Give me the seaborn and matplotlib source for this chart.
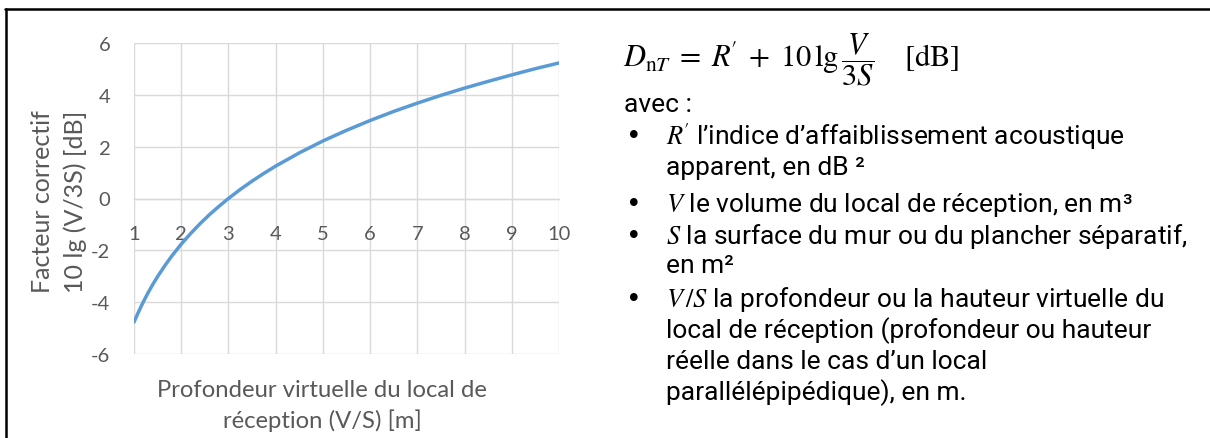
import matplotlib
matplotlib.use("Agg")
import matplotlib.pyplot as plt
import seaborn as sns
import pandas as pd
from matplotlib.lines import Line2D

# ---- data ----
depth_vs = [1.0, 1.1, 1.2, 1.3, 1.4, 1.5, 1.65, 1.8, 2.0, 2.2, 2.4, 2.6, 2.8, 3.0, 3.25, 3.5,
            3.75, 4.0, 4.5, 5.0, 5.5, 6.0, 6.5, 7.0, 7.5, 8.0, 8.5, 9.0, 9.5, 10.0]
correction_db = [-4.77, -4.36, -3.98, -3.63, -3.31, -3.01, -2.60, -2.22, -1.76, -1.35, -0.97,
                 -0.62, -0.30, 0.00, 0.35, 0.67, 0.97, 1.25, 1.76, 2.22, 2.63, 3.01, 3.36,
                 3.68, 3.98, 4.26, 4.52, 4.77, 5.01, 5.23]
x_ticks = [1, 2, 3, 4, 5, 6, 7, 8, 9, 10]
y_ticks = [-6, -4, -2, 0, 2, 4, 6]

y_label = "Facteur correctif\n10 lg (V/3S) [dB]"
x_label = "Profondeur virtuelle du local de\nréception (V/S) [m]"

formula = (r"$D_{\mathrm{n}T}\;=\;R^{\!\prime}\;+\;10\,\mathrm{lg}\,\dfrac{V}{3S}"
           r"\quad\;[\mathrm{dB}]$")
intro = "avec :"
bullet_lines = [
    (True,  r"$R^{\!\prime}$ l’indice d’affaiblissement acoustique"),
    (False, "apparent, en dB ²"),
    (True,  r"$V$ le volume du local de réception, en m³"),
    (True,  r"$S$ la surface du mur ou du plancher séparatif,"),
    (False, "en m²"),
    (True,  r"$V\,/S$ la profondeur ou la hauteur virtuelle du"),
    (False, "local de réception (profondeur ou hauteur"),
    (False, "réelle dans le cas d’un local"),
    (False, "parallélépipédique), en m."),
]

df = pd.DataFrame({"x": depth_vs, "y": correction_db})

sns.set_theme(style="white")
plt.rcParams["font.family"] = ["Lato", "DejaVu Sans"]
plt.rcParams["mathtext.fontset"] = "stix"
plt.rcParams["axes.unicode_minus"] = False

W, H = 1210, 439
fig = plt.figure(figsize=(W / 100, H / 100), dpi=100)
fig.patch.set_facecolor("white")

L, R, T, B = 134, 559, 44, 355
ax = fig.add_axes([L / W, 1 - B / H, (R - L) / W, (B - T) / H])

sns.lineplot(data=df, x="x", y="y", ax=ax, color="#5B9BD5", linewidth=2.5, zorder=3)

ax.set_xlim(1, 10)
ax.set_ylim(-6, 6)
ax.set_xticks(x_ticks)
ax.set_yticks(y_ticks)
ax.grid(True, color="#d9d9d9", linewidth=1.0)
ax.set_axisbelow(True)
for s in ["top", "right", "left"]:
    ax.spines[s].set_visible(False)
ax.spines["bottom"].set_position(("data", 0))
ax.spines["bottom"].set_color("#d9d9d9")
ax.spines["bottom"].set_linewidth(1.0)

gray = "#595959"
ax.tick_params(axis="both", length=0, labelsize=14.5, labelcolor=gray)
ax.tick_params(axis="y", pad=17)
ax.tick_params(axis="x", pad=19)

ax.set_ylabel(y_label, fontsize=18, color=gray, linespacing=1.45, ha="center", va="center")
ax.yaxis.set_label_coords((59 - L) / (R - L), (B - 202) / (B - T))
ax.set_xlabel(x_label, fontsize=17.2, color=gray, linespacing=1.5, ha="center", va="center")
ax.xaxis.set_label_coords((322 - L) / (R - L), (B - 406) / (B - T))

# frame lines (top and left)
fig.add_artist(Line2D([5 / W, 1.0], [1 - 10 / H, 1 - 10 / H], transform=fig.transFigure,
                      color="black", linewidth=1.8))
fig.add_artist(Line2D([6 / W, 6 / W], [1 - 10 / H, 0.0], transform=fig.transFigure,
                      color="black", linewidth=1.8))

# right-hand text
txt_font = ["Roboto", "DejaVu Sans"]
fig.text(623 / W, 1 - 60 / H, formula, fontsize=22, ha="left", va="center", color="black")
fig.text(624 / W, 1 - 105 / H, intro, fontsize=19, ha="left", va="center",
         family=txt_font, color="black")
line_y = [137, 168, 205, 237, 266, 300, 331, 362, 393]
for (has_bullet, txt), yy in zip(bullet_lines, line_y):
    if has_bullet:
        fig.text(634 / W, 1 - yy / H, "•", fontsize=19, ha="center", va="center",
                 family=["DejaVu Sans"], color="black")
    fig.text(666 / W, 1 - yy / H, txt, fontsize=19, ha="left", va="center",
             family=txt_font, color="black")

fig.savefig("out.png", dpi=100, facecolor="white")
